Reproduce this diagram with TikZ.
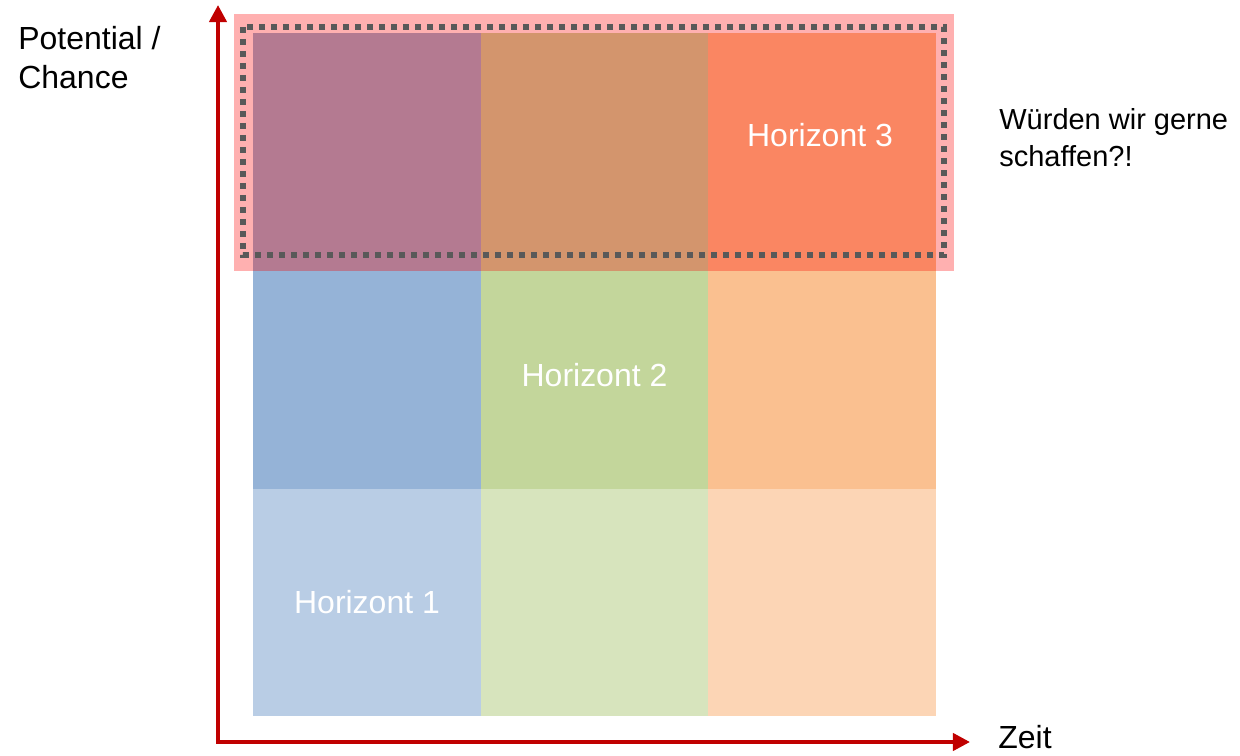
\documentclass[tikz,border=0pt]{standalone}
\usepackage{fontspec}
\setmainfont{Liberation Sans}
\usepackage{tikz}
\usetikzlibrary{arrows,arrows.meta,positioning,calc}

\definecolor{axisred}{HTML}{C00000}
\definecolor{frame}{HTML}{FFB0B0}
\definecolor{dots}{HTML}{595959}
\definecolor{topA}{HTML}{B47A91}
\definecolor{topB}{HTML}{D3956D}
\definecolor{topC}{HTML}{FA8662}
\definecolor{midA}{HTML}{95B3D7}
\definecolor{midB}{HTML}{C3D69B}
\definecolor{midC}{HTML}{FAC090}
\definecolor{lowA}{HTML}{B9CDE5}
\definecolor{lowB}{HTML}{D7E4BD}
\definecolor{lowC}{HTML}{FCD5B5}

\begin{document}
\begin{tikzpicture}[x=0.02cm,y=-0.02cm,
    cell/.style={rectangle,inner sep=0pt,minimum width=4.56cm,text=white,
      font=\fontsize{18.2}{22}\selectfont},
    lbl/.style={inner sep=0pt,align=left},
    axis/.style={draw=axisred,line width=2.3pt,line join=miter,
      {Triangle[length=9.7pt,width=9.7pt]}-{Triangle[length=9.7pt,width=9.7pt]}}]
      \useasboundingbox (0,0) rectangle (1240,756);

      % lower rows
      \node[cell,fill=lowA,minimum height=4.54cm] (c31) at (367,602.5) {Horizont 1};
      \node[cell,fill=lowB,minimum height=4.54cm] (c32) at (594.5,602.5) {};
      \node[cell,fill=lowC,minimum height=4.54cm] (c33) at (822,602.5) {};
      \node[cell,fill=midA,minimum height=4.56cm] (c21) at (367,375) {};
      \node[cell,fill=midB,minimum height=4.56cm] (c22) at (594.5,375) {Horizont 2};
      \node[cell,fill=midC,minimum height=4.56cm] (c23) at (822,375) {};

      % top row with frame
      \fill[frame] (234,14) rectangle (954,271);
      \node[cell,fill=topA,minimum height=4.76cm] (c11) at (367,152) {};
      \node[cell,fill=topB,minimum height=4.76cm] (c12) at (594.5,152) {};
      \node[cell,fill=topC,minimum height=4.76cm] (c13) at (822,152) {};
      \node[cell] (h3) at (820,135) {Horizont 3};
      \draw[dots,line width=3.2pt,dash pattern=on 3.2pt off 3.63pt]
        (243,27) rectangle (944,255);

      % axes
      \coordinate (O) at (218,742);
      \coordinate (ytop) at (218,5);
      \coordinate (xend) at (970,742);
      \path[axis] (ytop) -- (O) -- (xend);

      \node[lbl,anchor=west,font=\fontsize{18.2}{22}\selectfont] (zeit) at ([xshift=0.56cm,yshift=0.1cm]xend) {Zeit};
      \node[lbl,anchor=north west,font=\fontsize{18.2}{22.2}\selectfont] (pot) at (18,26) {Potential /\\Chance};
      \node[lbl,anchor=north west,font=\fontsize{16.5}{21}\selectfont] (goal) at (999,108) {Würden wir gerne\\schaffen?!};

    \end{tikzpicture}
\end{document}
